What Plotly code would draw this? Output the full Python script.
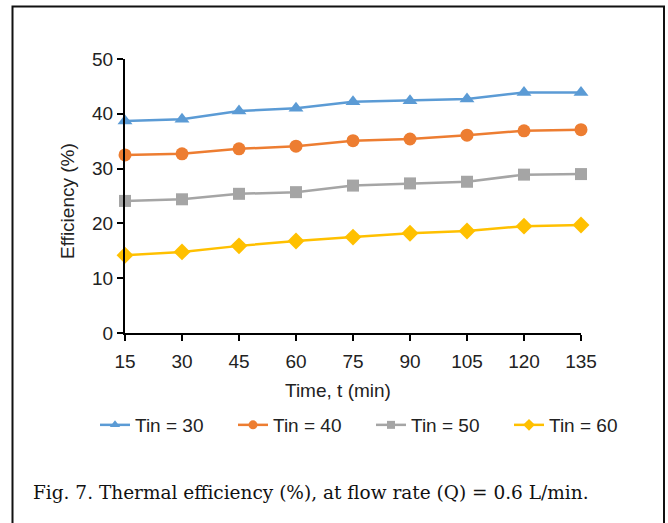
import plotly.graph_objects as go

time_min = [15, 30, 45, 60, 75, 90, 105, 120, 135]
tin30 = [38.7, 39.0, 40.5, 41.0, 42.2, 42.4, 42.7, 43.9, 43.9]
tin40 = [32.5, 32.7, 33.6, 34.1, 35.1, 35.4, 36.1, 36.9, 37.1]
tin50 = [24.1, 24.4, 25.4, 25.7, 26.9, 27.3, 27.6, 28.9, 29.0]
tin60 = [14.2, 14.8, 15.9, 16.8, 17.5, 18.2, 18.6, 19.5, 19.7]
series_names = ["Tin = 30", "Tin = 40", "Tin = 50", "Tin = 60"]
colors = ["#5B9BD5", "#ED7D31", "#A5A5A5", "#FFC000"]
symbols = ["triangle-up", "circle", "square", "diamond"]
sizes = [13, 13, 12, 13]
legend_sizes = [9, 9, 8, 9]
caption = "Fig. 7. Thermal efficiency (%), at flow rate (Q) = 0.6 L/min."
x_title = "Time, t (min)"
y_title = "Efficiency (%)"

fig = go.Figure()
for name, vals, c, s, sz in zip(series_names, [tin30, tin40, tin50, tin60], colors, symbols, sizes):
    fig.add_trace(go.Scatter(
        x=time_min, y=vals, name=name, mode="lines+markers", showlegend=False,
        line=dict(color=c, width=2.5),
        marker=dict(symbol=s, size=sz, color=c), cliponaxis=False,
    ))
# legend entries with smaller symbols, as in the reference
for name, c, s, sz in zip(series_names, colors, symbols, legend_sizes):
    fig.add_trace(go.Scatter(
        x=[None], y=[None], name=name, mode="lines+markers",
        line=dict(color=c, width=2.5), marker=dict(symbol=s, size=sz, color=c),
    ))

W, H = 668, 523
L, R, T, B = 125, 87, 59, 190
pw, ph = W - L - R, H - T - B

def px_x(p):
    return (p - L) / pw

def px_y(p):
    return (H - B - p) / ph

font = "Liberation Sans, Arial, sans-serif"
fs = 19
fig.update_layout(
    width=W, height=H,
    margin=dict(l=L, r=R, t=T, b=B),
    paper_bgcolor="white", plot_bgcolor="white",
    font=dict(family=font, size=fs, color="#222"),
    legend=dict(orientation="h", x=px_x(95), xanchor="left", y=px_y(425), yanchor="middle",
                font=dict(size=fs, color="#222"), entrywidth=93, entrywidthmode="pixels",
                tracegroupgap=0, bgcolor="rgba(0,0,0,0)"),
    xaxis=dict(range=[15, 135], tickmode="array", tickvals=time_min,
               showline=True, linecolor="black", linewidth=2, ticks="outside",
               tickcolor="black", ticklen=6, tickwidth=2, showgrid=False, zeroline=False,
               ticklabelstandoff=4),
    yaxis=dict(range=[0, 50], dtick=10, showline=True, linecolor="black", linewidth=2,
               ticks="outside", tickcolor="black", ticklen=6, tickwidth=2,
               showgrid=False, zeroline=False),
    shapes=[dict(type="rect", xref="paper", yref="paper",
                 x0=px_x(12.5), x1=px_x(664), y0=px_y(540), y1=px_y(6.5),
                 line=dict(color="#111", width=2), fillcolor="rgba(0,0,0,0)")],
    annotations=[
        dict(text=x_title, xref="paper", yref="paper", x=px_x(338), y=px_y(390),
             xanchor="center", yanchor="middle", showarrow=False, font=dict(size=fs, color="#222")),
        dict(text=y_title, xref="paper", yref="paper", x=px_x(68), y=px_y(201),
             xanchor="center", yanchor="middle", textangle=-90, showarrow=False,
             font=dict(size=fs, color="#222")),
        dict(text=caption, xref="paper", yref="paper", x=px_x(31), y=px_y(492),
             xanchor="left", yanchor="middle", showarrow=False,
             font=dict(family="DejaVu Serif, serif", size=18.5, color="#111")),
    ],
)

fig.write_html("out.html")
